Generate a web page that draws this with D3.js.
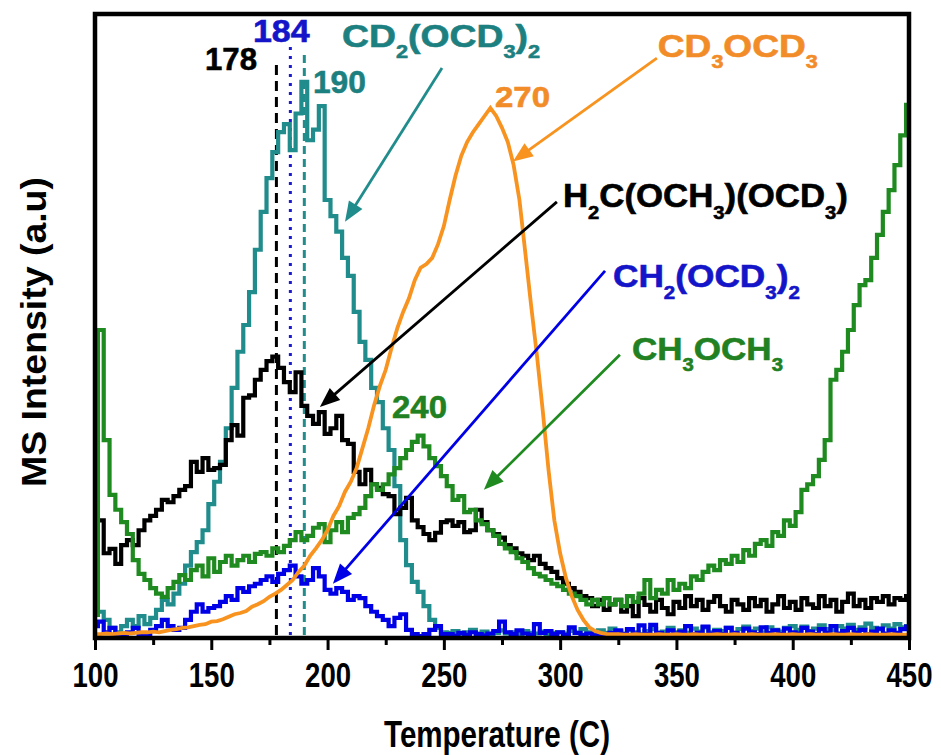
<!DOCTYPE html>
<html>
<head>
<meta charset="utf-8">
<script src="https://cdn.jsdelivr.net/npm/d3@7"></script>
<style>
  html, body { margin: 0; padding: 0; background: #fff; }
  svg { display: block; font-family: "Liberation Sans", Arial, Helvetica, sans-serif; font-weight: bold; }
</style>
</head>
<body>
<svg id="chart" width="941" height="755"></svg>
<script>
// Temperature grid (°C) shared by every trace
const temperature = d3.range(100, 450.01, 2.5);

// MS intensity traces (a.u.), one value per temperature step
const cd2ocd3_2 = [
  4.2,3.9,2.6,1.3,0.6,1.6,2.6,1.6,3.2,1.9,
  2.9,4.2,5.8,5.1,6.8,8.4,11.3,13.5,15.1,17.0,
  21.2,24.8,28.0,33.4,39.9,45.7,50.0,55.3,62.1,68.2,
  73.6,77.8,81.0,82.3,78.1,84.0,89.1,79.7,81.4,85.2,
  70.1,67.5,65.0,60.8,57.9,52.1,47.3,44.4,39.9,37.6,
  33.4,29.9,24.1,15.4,11.4,8.7,7.1,4.8,2.6,1.3,
  0.6,
  0.5,0.8,0.3,0.6,1.0,0.4,0.7,0.3,0.5,0.9,
  0.4,0.6,0.3,0.8,0.5,0.4,0.7,0.3,0.5,0.6,
  0.4,0.8,0.5,1.1,0.6,0.3,0.9,0.5,1.2,0.7,
  0.4,1.0,0.6,0.3,0.8,1.1,0.5,0.7,1.3,0.6,
  0.9,0.5,1.2,0.7,1.4,0.6,1.0,0.8,1.3,0.5,
  1.1,1.5,0.8,1.2,0.6,1.4,1.0,0.7,1.3,1.6,
  1.0,1.5,0.8,1.2,1.7,1.1,0.9,1.6,1.2,1.8,
  1.0,1.4,2.0,1.3,1.1,1.7,1.2,1.9,1.4,1.6
];

const h2cOch3Ocd3 = [
  21.9,18.6,13.3,14.0,11.6,14.6,15.4,14.6,17.0,18.6,
  19.3,20.3,21.9,21.5,22.5,23.5,24.1,28.0,26.4,28.6,
  26.7,27.0,27.5,31.5,33.9,32.2,38.3,38.7,41.2,42.8,
  44.2,44.9,43.1,40.8,39.2,42.4,37.0,35.4,34.1,36.0,
  32.5,33.4,35.4,31.5,30.9,26.4,24.4,26.7,24.4,23.8,
  22.8,22.5,19.6,20.6,22.2,18.6,17.5,16.4,15.4,16.6,
  18.3,18.6,17.7,18.3,16.7,17.0,20.3,18.3,17.0,16.4,
  15.8,14.6,14.1,13.3,12.9,12.2,12.9,11.6,10.9,10.3,
  9.3,8.4,7.7,7.1,6.4,6.1,4.8,5.8,4.2,5.1,
  5.8,3.9,4.8,3.2,6.1,5.0,3.9,5.8,4.5,3.5,
  5.5,4.5,6.4,4.8,5.8,4.2,5.5,6.4,4.8,3.9,
  5.8,5.1,4.2,6.1,4.8,5.8,3.9,5.1,6.4,4.5,
  5.5,4.2,6.1,5.1,4.5,6.4,4.8,5.8,3.9,5.5,
  6.8,4.8,5.8,4.5,6.1,5.5,6.4,5.1,6.1,5.8,6.4
];

const ch2ocd3_2 = [
  1.6,2.3,0.6,1.3,0.3,0.0,0.6,1.3,0.3,0.0,
  1.0,1.6,2.6,1.6,1.0,1.3,2.6,3.9,5.1,3.9,
  4.5,4.8,5.5,6.4,5.8,7.7,7.1,8.0,8.4,9.0,
  9.6,8.7,10.0,10.6,11.3,9.6,8.4,9.0,10.9,9.6,
  7.4,6.8,7.7,7.1,5.8,6.4,6.1,4.8,3.9,3.2,
  2.6,1.6,2.9,3.5,1.0,0.3,0.0,0.3,1.0,1.6,
  0.3,
  0.3,0.1,0.5,0.2,0.6,0.3,0.1,0.4,0.8,2.3,
  0.6,0.3,0.9,0.4,0.2,1.9,0.5,0.8,0.3,0.6,
  0.2,1.4,0.5,0.2,0.4,0.1,0.3,0.2,0.5,0.9,
  0.3,1.1,0.4,1.7,0.3,1.8,0.5,0.2,0.9,0.4,
  0.7,1.6,0.3,0.5,1.5,0.4,0.8,0.3,1.3,0.5,
  0.2,1.2,0.6,0.3,1.4,0.5,0.9,0.3,1.2,0.6,
  0.4,1.3,0.7,0.3,1.1,0.5,1.6,0.4,0.8,1.3,
  0.5,1.0,0.3,0.7,1.2,0.4,0.9,0.5,1.1,1.5
];

const ch3och3 = [
  3.4,49.2,31.5,22.7,20.3,18.3,16.4,12.2,10.0,9.0,
  7.7,6.8,6.3,7.7,8.7,9.8,9.0,10.6,11.3,9.6,
  12.5,10.3,11.9,12.9,11.3,12.2,12.9,11.9,13.2,13.5,
  12.9,14.1,13.5,14.5,15.4,16.7,15.4,16.1,17.4,18.0,
  15.1,17.0,18.3,16.7,19.0,19.6,20.6,22.5,24.4,23.5,
  24.4,26.0,27.0,28.6,29.9,31.2,32.2,30.5,28.6,27.3,
  25.7,24.1,21.9,22.5,19.9,20.3,18.6,18.0,17.0,16.1,
  14.8,14.1,13.5,12.5,11.9,10.9,10.0,9.6,9.0,8.4,
  8.0,7.4,6.8,6.4,5.8,5.1,5.8,5.1,6.1,5.1,
  5.8,4.8,6.4,5.5,6.8,9.0,6.1,7.4,6.8,9.0,
  7.4,8.4,7.7,9.6,9.0,10.3,11.3,10.6,12.2,11.6,
  12.9,11.9,13.8,12.9,14.8,15.4,14.5,16.7,16.1,18.6,
  17.7,19.9,23.5,24.4,25.7,28.3,31.5,41.2,42.8,45.7,
  49.2,53.2,56.4,57.2,60.8,64.5,68.2,71.7,75.7,80.5,85.4
];

const cd3ocd3 = [
  0.3,0.3,0.4,0.3,0.4,0.5,0.4,0.5,0.6,0.6,
  0.7,0.6,0.8,1.0,1.1,1.3,1.4,1.6,1.8,1.9,
  2.3,2.4,2.7,3.1,3.5,3.7,4.0,4.7,5.1,5.6,
  6.3,6.8,7.4,8.2,9.0,10.3,11.3,12.9,14.1,15.4,
  17.0,19.3,20.9,23.2,24.8,27.0,30.2,33.4,37.1,40.2,
  42.8,46.3,49.5,52.1,54.3,57.2,59.2,59.8,60.8,63.0,
  65.9,70.1,74.0,77.2,79.4,81.0,82.3,83.6,84.9,83.6,
  81.7,79.4,75.7,70.1,61.7,53.2,45.2,36.3,26.7,18.6,
  13.3,9.3,6.4,4.2,2.6,1.4,0.8,0.5,0.3,0.3,
  0.3,0.2,0.2,0.3,0.2,0.2,0.2,0.3,0.2,0.2,
  0.3,0.2,0.2,0.3,0.2,0.2,0.2,0.3,0.2,0.2,
  0.3,0.2,0.2,0.3,0.2,0.2,0.2,0.3,0.2,0.2,
  0.3,0.2,0.2,0.3,0.2,0.2,0.2,0.3,0.2,0.2,
  0.3,0.2,0.2,0.3,0.2,0.2,0.2,0.3,0.2,0.2,0.2
];

// Axis ticks
const majorTicks = [100, 150, 200, 250, 300, 350, 400, 450];
const minorTicks = [125, 175, 225, 275, 325, 375, 425];

// Peak temperatures marked with vertical guides
const peakTemps = [178, 184, 190];

// ---------------------------------------------------------------
const C = {
  teal: "#218c8c", tealText: "#1d8080",
  blue: "#0000e6", blueText: "#1414c8",
  green: "#1f8a1f", greenText: "#218021",
  orange: "#f7931e", orangeText: "#f28c28",
  black: "#000"
};

const svg = d3.select("#chart");
const plot = { left: 95, right: 909, top: 14, bottom: 638 };

const x = d3.scaleLinear().domain([100, 450]).range([plot.left, plot.right]);
const y = d3.scaleLinear().domain([0, 100]).range([636, 14]);

svg.append("defs").append("clipPath").attr("id", "plotClip")
  .append("rect")
  .attr("x", plot.left).attr("y", plot.top)
  .attr("width", plot.right - plot.left).attr("height", plot.bottom - plot.top);

// Vertical peak guides
const guideStyles = [
  { color: C.black, dash: "10,6", width: 3, top: 91.8 },
  { color: "#1a1ad0", dash: "3,6", width: 3, top: 94.7 },
  { color: C.teal, dash: "8,5", width: 3, top: 93.4 }
];
const guides = svg.append("g");
peakTemps.forEach((t, i) => {
  const s = guideStyles[i];
  guides.append("line")
    .attr("x1", x(t)).attr("x2", x(t))
    .attr("y1", y(s.top)).attr("y2", y(0))
    .attr("stroke", s.color).attr("stroke-width", s.width)
    .attr("stroke-dasharray", s.dash);
});

// Traces
const traces = [
  { values: cd2ocd3_2,   color: C.teal,   curve: d3.curveStep,   width: 4.2 },
  { values: h2cOch3Ocd3, color: C.black,  curve: d3.curveStep,   width: 4.2 },
  { values: ch2ocd3_2,   color: C.blue,   curve: d3.curveStep,   width: 4.2 },
  { values: ch3och3,     color: C.green,  curve: d3.curveStep,   width: 4.2 },
  { values: cd3ocd3,     color: C.orange, curve: d3.curveLinear, width: 3.8 }
];
const lines = svg.append("g").attr("clip-path", "url(#plotClip)");
traces.forEach(tr => {
  const line = d3.line()
    .x((d, i) => x(temperature[i]))
    .y(d => y(d))
    .curve(tr.curve);
  lines.append("path")
    .datum(tr.values)
    .attr("d", line)
    .attr("fill", "none")
    .attr("stroke", tr.color)
    .attr("stroke-width", tr.width)
    .attr("stroke-linejoin", "miter");
});

// Annotation arrows (data coordinates)
const arrows = [
  { from: [249.2, 91.3], to: [207.5, 66.6], color: C.teal },
  { from: [341.6, 92.9], to: [279.7, 76.3], color: C.orange },
  { from: [298.6, 69.8], to: [196.7, 36.8], color: C.black },
  { from: [319.3, 58.7], to: [202.3, 8.4],  color: C.blue },
  { from: [325.7, 45.2], to: [267.2, 23.5], color: C.green }
];
const arrowG = svg.append("g");
arrows.forEach(a => {
  const x1 = x(a.from[0]), y1 = y(a.from[1]);
  const x2 = x(a.to[0]),   y2 = y(a.to[1]);
  const ang = Math.atan2(y2 - y1, x2 - x1);
  const len = 20, half = 8;
  const bx = x2 - len * Math.cos(ang), by = y2 - len * Math.sin(ang);
  arrowG.append("line")
    .attr("x1", x1).attr("y1", y1)
    .attr("x2", bx + 4 * Math.cos(ang)).attr("y2", by + 4 * Math.sin(ang))
    .attr("stroke", a.color).attr("stroke-width", 2.8);
  const px = -Math.sin(ang), py = Math.cos(ang);
  arrowG.append("polygon")
    .attr("points", [
      [x2, y2],
      [bx + half * px, by + half * py],
      [bx - half * px, by - half * py]
    ].map(p => p.join(",")).join(" "))
    .attr("fill", a.color);
});

// Text helper: draws text parts (with subscripts) and stretches to a target width
function drawLabel(parent, d) {
  const g = parent.append("g");
  const t = g.append("text").attr("fill", d.color).attr("font-size", d.size)
    .attr("text-anchor", "start")
    .attr("stroke", d.color).attr("stroke-width", 0.6);
  const drop = d.size * 0.36, subSize = d.size * 0.58;
  let inSub = false;
  d.parts.forEach(p => {
    const sub = p.startsWith("_");
    const txt = sub ? p.slice(1) : p;
    const ts = t.append("tspan").text(txt);
    if (sub) {
      ts.attr("font-size", subSize);
      if (!inSub) ts.attr("dy", drop);
    } else if (inSub) {
      ts.attr("dy", -drop);
    }
    inSub = sub;
  });
  const bb = t.node().getBBox();
  const sx = d.w / bb.width;
  const x0 = x(d.t) - bb.x * sx;
  g.attr("transform", `translate(${x0},${y(d.v)}) scale(${sx},1)`);
}

const labels = [
  { parts: ["178"], t: 147.3, v: 91.0, size: 32, w: 52, color: C.black },
  { parts: ["184"], t: 167.9, v: 95.5, size: 32, w: 57, color: C.blueText },
  { parts: ["190"], t: 193.7, v: 87.3, size: 32, w: 53, color: C.tealText },
  { parts: ["CD", "_2", "(OCD", "_3", ")", "_2"], t: 206.2, v: 94.7, size: 31, w: 198, color: C.tealText },
  { parts: ["270"], t: 272.0, v: 85.0, size: 30, w: 55, color: C.orangeText },
  { parts: ["CD", "_3", "OCD", "_3"], t: 342.0, v: 93.1, size: 32, w: 160, color: C.orangeText },
  { parts: ["H", "_2", "C(OCH", "_3", ")(OCD", "_3", ")"], t: 301.2, v: 69.0, size: 33, w: 285, color: C.black },
  { parts: ["CH", "_2", "(OCD", "_3", ")", "_2"], t: 322.7, v: 56.1, size: 32, w: 187, color: C.blueText },
  { parts: ["CH", "_3", "OCH", "_3"], t: 330.9, v: 44.4, size: 32, w: 151, color: C.greenText },
  { parts: ["240"], t: 227.7, v: 35.0, size: 32, w: 55, color: C.greenText }
];
const labelG = svg.append("g");
labels.forEach(d => drawLabel(labelG, d));

// X axis: major ticks with labels, minor ticks without
const axisMajor = svg.append("g")
  .attr("transform", `translate(0,${plot.bottom})`)
  .call(d3.axisBottom(x).tickValues(majorTicks).tickSize(12).tickPadding(12)
    .tickFormat(d3.format("d")));
axisMajor.select(".domain").remove();
axisMajor.selectAll(".tick line").attr("stroke", "#000").attr("stroke-width", 3);
axisMajor.selectAll(".tick text")
  .attr("font-size", 35).attr("font-weight", "bold")
  .attr("font-family", "'Liberation Sans', Arial, sans-serif")
  .attr("fill", "#000")
  .each(function () {
    const w = this.getBBox().width;
    d3.select(this).attr("transform", `scale(${46 / w},1)`);
  });

const axisMinor = svg.append("g")
  .attr("transform", `translate(0,${plot.bottom})`)
  .call(d3.axisBottom(x).tickValues(minorTicks).tickSize(7).tickFormat(""));
axisMinor.select(".domain").remove();
axisMinor.selectAll(".tick line").attr("stroke", "#000").attr("stroke-width", 3);

// Frame
svg.append("rect")
  .attr("x", plot.left).attr("y", plot.top)
  .attr("width", plot.right - plot.left).attr("height", plot.bottom - plot.top)
  .attr("fill", "none").attr("stroke", "#000").attr("stroke-width", 4.5);

// Axis titles
const xt = svg.append("g");
const xtText = xt.append("text").text("Temperature (C)")
  .attr("font-size", 37).attr("text-anchor", "middle").attr("fill", "#000");
const xw = xtText.node().getBBox().width;
xt.attr("transform", `translate(${(plot.left + plot.right) / 2 - 5},747) scale(${226 / xw},1)`);

const yt = svg.append("g");
const ytText = yt.append("text").text("MS Intensity (a.u)")
  .attr("font-size", 35).attr("text-anchor", "middle").attr("fill", "#000");
const yw = ytText.node().getBBox().width;
yt.attr("transform", `translate(46,332) rotate(-90) scale(${310 / yw},1)`);
</script>
</body>
</html>
